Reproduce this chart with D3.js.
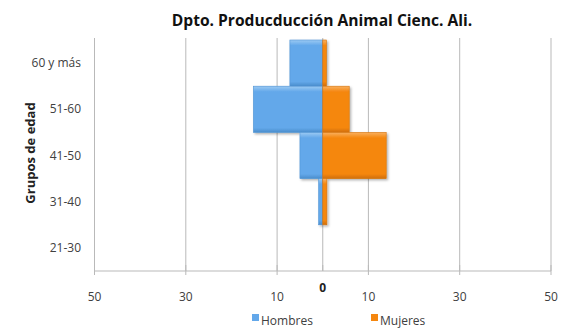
<!DOCTYPE html>
<html><head><meta charset="utf-8">
<script src="https://cdn.jsdelivr.net/npm/d3@7"></script>
<style>body{margin:0;background:#fff;} svg{display:block;font-family:"Open Sans",sans-serif;}</style>
</head><body><svg id="c" width="563" height="332"></svg>
<script>
const categories = ["60 y más","51-60","41-50","31-40","21-30"];
const hombres = [7.2, 15.2, 5.0, 0.9, 0];
const mujeres = [0.8, 5.8, 13.9, 0.9, 0];
const tickValues = [-50,-30,-10,0,10,30,50];
const seriesNames = ["Hombres","Mujeres"];
const colors = {Hombres:"#63a8ea", Mujeres:"#f5870f"};

const svg = d3.select("#c");
const W=563,H=332;
const m={left:95,right:12,top:40,bottom:61};
const x = d3.scaleLinear().domain([-50,50]).range([94.5,551]);
const y = d3.scaleBand().domain(categories).range([m.top, H-m.bottom]).padding(0);

const defs = svg.append("defs");
function grad(id, light, mid, dark){
  const g = defs.append("linearGradient").attr("id",id).attr("x1",0).attr("y1",0).attr("x2",0).attr("y2",1);
  g.append("stop").attr("offset","0%").attr("stop-color",light);
  g.append("stop").attr("offset","12%").attr("stop-color",mid);
  g.append("stop").attr("offset","90%").attr("stop-color",mid);
  g.append("stop").attr("offset","100%").attr("stop-color",dark);
}
grad("gH","#9ccaf3","#63a8ea","#4a8dcc");
grad("gM","#f9b060","#f5870f","#cf6e08");
const f = defs.append("filter").attr("id","sh").attr("x","-10%").attr("y","-10%").attr("width","130%").attr("height","130%");
f.append("feDropShadow").attr("dx",1.5).attr("dy",1.5).attr("stdDeviation",1.2).attr("flood-color","#000").attr("flood-opacity",0.3);

// gridlines
svg.append("g").selectAll("line").data(tickValues).join("line")
  .attr("x1",d=>x(d)).attr("x2",d=>x(d)).attr("y1",m.top-2).attr("y2",H-m.bottom)
  .attr("stroke","#b9b9b9").attr("stroke-width",1);

// bars
const gb = svg.append("g").attr("filter","url(#sh)");
categories.forEach((c,i)=>{
  if(hombres[i]>0) gb.append("rect").attr("x",x(-hombres[i])).attr("y",y(c)).attr("width",x(0)-x(-hombres[i])).attr("height",y.bandwidth())
    .attr("fill","url(#gH)").attr("stroke","#4f93d4").attr("stroke-width",0.6);
  if(mujeres[i]>0) gb.append("rect").attr("x",x(0)).attr("y",y(c)).attr("width",x(mujeres[i])-x(0)).attr("height",y.bandwidth())
    .attr("fill","url(#gM)").attr("stroke","#d67208").attr("stroke-width",0.6);
});

// x axis
const ax = svg.append("g").attr("transform",`translate(0,${H-m.bottom})`);
ax.append("line").attr("x1",x(-50)).attr("x2",x(50)).attr("stroke","#b9b9b9");
ax.selectAll(".t").data(tickValues).join("line").attr("x1",d=>x(d)).attr("x2",d=>x(d))
  .attr("y1",-6).attr("y2",d=>d===0?0:4).attr("stroke","#b9b9b9");
ax.selectAll("text").data(tickValues).join("text")
  .attr("x",d=>x(d)).attr("y",d=>d===0?21:30).attr("text-anchor","middle")
  .attr("font-size",12).attr("font-weight",d=>d===0?"bold":"normal").attr("fill",d=>d===0?"#222":"#404040")
  .text(d=>Math.abs(d));

// y axis
svg.append("line").attr("x1",x(-50)).attr("x2",x(-50)).attr("y1",m.top-2).attr("y2",H-m.bottom).attr("stroke","#b9b9b9");
svg.append("g").selectAll("text").data(categories).join("text")
  .attr("x",81).attr("y",d=>y(d)+y.bandwidth()/2+4).attr("text-anchor","end")
  .attr("font-size",12).attr("fill","#404040").text(d=>d);

svg.append("text").attr("transform","translate(35,153) rotate(-90)").attr("text-anchor","middle")
  .attr("font-size",13).attr("font-weight","bold").attr("fill","#222").text("Grupos de edad");

svg.append("text").attr("x",322).attr("y",26).attr("text-anchor","middle")
  .attr("font-size",15.6).attr("font-weight","bold").attr("fill","#111").text("Dpto. Producducción Animal Cienc. Ali.");

// legend
const lg = svg.append("g");
const lx = [252, 371];
seriesNames.forEach((s,i)=>{
  lg.append("rect").attr("x",lx[i]).attr("y",314).attr("width",7).attr("height",7).attr("fill",colors[s]);
  lg.append("text").attr("x",lx[i]+9).attr("y",325).attr("font-size",12).attr("fill","#404040").text(s);
});
</script></body></html>
